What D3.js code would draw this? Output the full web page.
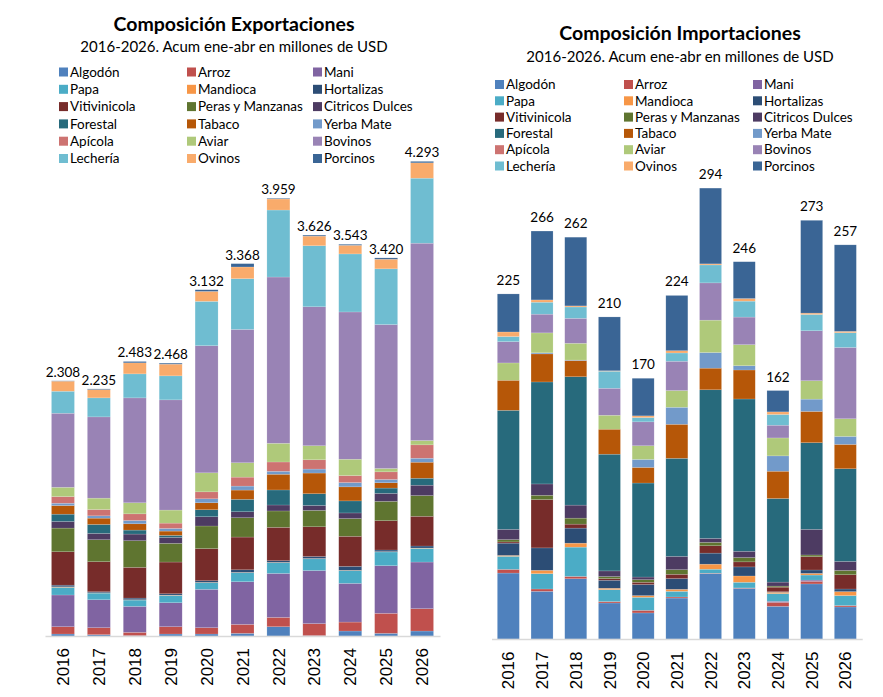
<!DOCTYPE html>
<html>
<head>
<meta charset="utf-8">
<script src="https://cdn.jsdelivr.net/npm/d3@7"></script>
<style>
  body { margin: 0; background: #fff; }
  svg { display: block; }
  text { font-family: Lato, "Open Sans", sans-serif; fill: #000; }
  .year text { font-family: "Liberation Sans", Arial, sans-serif; font-size: 17px; }
</style>
</head>
<body>
<svg id="chart" width="883" height="697"></svg>
<script>
// years on the x axis
var years = ['2016', '2017', '2018', '2019', '2020', '2021', '2022', '2023', '2024', '2025', '2026'];

// legend / stacking order, bottom to top
var seriesNames = ['Algodón', 'Arroz', 'Mani', 'Papa', 'Mandioca', 'Hortalizas',
                   'Vitivinicola', 'Peras y Manzanas', 'Citricos Dulces', 'Forestal', 'Tabaco', 'Yerba Mate',
                   'Apícola', 'Aviar', 'Bovinos', 'Lechería', 'Ovinos', 'Porcinos'];

var seriesColors = ['#4F81BD', '#C0504D', '#8064A2', '#4BACC6', '#F79646', '#2C4D75',
                    '#772C2A', '#5F7530', '#4D3B62', '#276A7C', '#B65708', '#729ACA',
                    '#CD7371', '#AFC97A', '#9983B5', '#6FBDD1', '#F9AB6B', '#3A6595'];

// Exportaciones, millones de USD
var expAlgodon      = [18, 12, 3, 18, 18, 24, 84, 3, 45, 24, 45];
var expArroz        = [66, 63, 30, 66, 57, 81, 84, 109, 81, 181, 202];
var expMani         = [287, 253, 235, 217, 347, 386, 398, 480, 350, 431, 422];
var expPapa         = [69, 60, 57, 66, 60, 81, 97, 106, 115, 124, 124];
var expMandioca     = [5, 3, 3, 3, 3, 3, 3, 3, 3, 3, 3];
var expHortalizas   = [15, 9, 15, 12, 15, 24, 15, 18, 36, 15, 18];
var expVitivinicola = [302, 272, 278, 287, 290, 296, 302, 269, 272, 265, 269];
var expPeras        = [214, 199, 241, 169, 205, 175, 148, 148, 160, 175, 187];
var expCitricos     = [60, 57, 60, 54, 84, 54, 54, 45, 51, 72, 94];
var expForestal     = [66, 81, 36, 18, 63, 112, 136, 106, 109, 48, 63];
var expTabaco       = [78, 57, 57, 39, 63, 84, 142, 187, 127, 48, 145];
var expYerba        = [21, 21, 30, 24, 36, 36, 27, 36, 39, 30, 36];
var expApicola      = [60, 57, 60, 48, 63, 81, 84, 84, 63, 69, 121];
var expAviar        = [84, 103, 100, 118, 172, 130, 169, 127, 148, 30, 39];
var expBovinos      = [670, 735, 949, 997, 1150, 1206, 1504, 1257, 1332, 1302, 1785];
var expLecheria     = [199, 172, 217, 217, 401, 459, 606, 552, 525, 504, 588];
var expOvinos       = [91, 75, 100, 106, 90, 106, 100, 87, 78, 87, 139];
var expPorcinos     = [3, 6, 12, 9, 15, 30, 6, 9, 9, 12, 13];

// Importaciones, millones de USD
var impAlgodon      = [43.0, 31.1, 39.3, 23.5, 17.0, 26.7, 42.6, 33.0, 21.3, 35.9, 20.9];
var impArroz        = [2.4, 1.5, 1.5, 0.9, 1.7, 0.7, 0.3, 0.3, 2.6, 1.7, 0.9];
var impMani         = [0, 0, 0, 0, 0, 0, 0, 0, 0.7, 0.8, 0];
var impPapa         = [8.5, 10.0, 19.1, 7.8, 8.5, 3.7, 2.6, 3.7, 5.0, 3.3, 6.5];
var impMandioca     = [0.6, 2.2, 2.6, 0.9, 1.1, 1.3, 3.3, 4.1, 0.9, 1.1, 2.6];
var impHortalizas   = [8.0, 14.6, 9.8, 5.2, 7.2, 7.0, 7.2, 5.9, 0.3, 2.2, 1.7];
var impVitivinicola = [0.8, 31.5, 2.6, 1.1, 1.5, 2.8, 4.8, 3.3, 3.0, 8.7, 9.3];
var impPeras        = [1.5, 2.8, 3.9, 1.3, 1.7, 3.0, 2.2, 2.8, 0.7, 1.1, 2.8];
var impCitricos     = [6.7, 7.4, 8.5, 3.7, 1.7, 8.7, 2.6, 4.1, 2.6, 16.7, 5.9];
var impForestal     = [77.6, 66.5, 83.7, 76.1, 61.3, 63.9, 96.9, 99.3, 54.5, 56.5, 60.4];
var impTabaco       = [19.6, 18.3, 10.6, 16.3, 10.2, 22.2, 14.1, 18.9, 17.8, 20.4, 15.9];
var impYerba        = [0, 0.7, 0.3, 0, 5.2, 11.1, 10.2, 2.8, 10.0, 8.0, 5.2];
var impApicola      = [0, 0, 0, 0, 0, 0, 0, 0, 0, 0, 0];
var impAviar        = [11.3, 13.0, 10.9, 9.1, 8.9, 10.9, 21.1, 13.7, 11.7, 12.0, 11.5];
var impBovinos      = [13.9, 12.2, 16.3, 17.6, 15.6, 19.1, 24.3, 18.0, 8.3, 32.6, 46.5];
var impLecheria     = [3.3, 7.8, 7.4, 11.1, 2.8, 5.4, 11.7, 10.4, 7.0, 10.6, 9.6];
var impOvinos       = [3.0, 1.5, 0.7, 0.3, 1.1, 1.5, 0.7, 1.7, 1.7, 0.9, 0.9];
var impPorcinos     = [24.8, 44.9, 44.8, 35.1, 24.5, 36.0, 49.4, 24.0, 13.9, 60.5, 56.4];

var expSeries = [expAlgodon, expArroz, expMani, expPapa, expMandioca, expHortalizas,
                 expVitivinicola, expPeras, expCitricos, expForestal, expTabaco, expYerba,
                 expApicola, expAviar, expBovinos, expLecheria, expOvinos, expPorcinos];
var impSeries = [impAlgodon, impArroz, impMani, impPapa, impMandioca, impHortalizas,
                 impVitivinicola, impPeras, impCitricos, impForestal, impTabaco, impYerba,
                 impApicola, impAviar, impBovinos, impLecheria, impOvinos, impPorcinos];

var esLocale = d3.formatLocale({decimal: ',', thousands: '.', grouping: [3], currency: ['$', '']});

var svg = d3.select('#chart');

function buildRows(series) {
    return years.map(function(yr, i) {
        var row = {year: yr};
        seriesNames.forEach(function(name, s) {
            row[name] = series[s][i];
        });
        return row;
    });
}

function drawChart(series, opts) {
    var g = svg.append('g');
    var rows = buildRows(series);
    var stacked = d3.stack().keys(seriesNames)(rows);

    var x = d3.scaleBand()
        .domain(years)
        .range(opts.xRange)
        .paddingInner(opts.pad)
        .paddingOuter(opts.pad / 2);

    var y = d3.scaleLinear()
        .domain([0, opts.yMax])
        .range(opts.yRange);

    // titles
    g.append('text')
        .attr('x', opts.titleX).attr('y', opts.titleY)
        .attr('text-anchor', 'middle')
        .style('font-size', '19.5px').style('font-weight', 'bold')
        .text(opts.title);
    g.append('text')
        .attr('x', opts.titleX).attr('y', opts.subY)
        .attr('text-anchor', 'middle')
        .style('font-size', '15px')
        .text('2016-2026. Acum ene-abr en millones de USD');

    // legend, 3 columns filled row by row
    var legend = g.selectAll('g.legend')
        .data(seriesNames)
      .enter().append('g')
        .attr('class', 'legend')
        .attr('transform', function(d, i) {
            return 'translate(' + opts.legendCols[i % 3] + ',' + (opts.legendY + Math.floor(i / 3) * opts.legendStep) + ')';
        });
    legend.append('rect')
        .attr('x', 0).attr('y', -4.5)
        .attr('width', 9).attr('height', 9)
        .style('fill', function(d, i) { return seriesColors[i]; });
    legend.append('text')
        .attr('x', 11).attr('y', 0)
        .attr('dy', '0.35em')
        .style('font-size', '13.5px')
        .text(function(d) { return d; });

    // stacked bars
    g.selectAll('g.layer')
        .data(stacked)
      .enter().append('g')
        .attr('class', 'layer')
        .style('fill', function(d, i) { return seriesColors[i]; })
      .selectAll('rect')
        .data(function(d) { return d; })
      .enter().append('rect')
        .attr('x', function(d) { return x(d.data.year); })
        .attr('width', x.bandwidth())
        .attr('y', function(d) { return y(d[1]); })
        .attr('height', function(d) { return y(d[0]) - y(d[1]); })
        .style('stroke', 'rgba(255,255,255,0.3)')
        .style('stroke-width', 0.5);

    // totals
    var totals = rows.map(function(r) {
        return {year: r.year, total: d3.sum(seriesNames, function(n) { return r[n]; })};
    });
    g.selectAll('text.total')
        .data(totals)
      .enter().append('text')
        .attr('class', 'total')
        .attr('x', function(d) { return x(d.year) + x.bandwidth() / 2; })
        .attr('y', function(d) { return y(d.total) - opts.labelGap; })
        .attr('text-anchor', 'middle')
        .style('font-size', '13.5px')
        .text(function(d) { return opts.fmt(d.total); });

    // x axis
    var axis = g.append('g')
        .attr('class', 'year')
        .attr('transform', 'translate(0,' + opts.yRange[0] + ')')
        .call(d3.axisBottom(x).tickSize(0).tickSizeOuter(0));
    axis.select('.domain').style('stroke', '#D9D9D9').style('stroke-width', 1.5);
    axis.selectAll('text')
        .attr('transform', 'rotate(-90)')
        .attr('text-anchor', 'end')
        .attr('x', -opts.labelTop)
        .attr('y', 0)
        .attr('dy', '0.36em')
        .style('font-size', '17px');
}

drawChart(expSeries, {
    title: 'Composición Exportaciones',
    titleX: 234, titleY: 31, subY: 52,
    legendCols: [59, 187, 313], legendY: 72, legendStep: 17.3,
    xRange: [45, 440], pad: 0.36,
    yMax: 4500, yRange: [636, 138.5],
    labelGap: 4,
    labelTop: 12,
    fmt: esLocale.format(',.0f')
});

drawChart(impSeries, {
    title: 'Composición Importaciones',
    titleX: 680, titleY: 39.5, subY: 61.5,
    legendCols: [495, 624, 753], legendY: 84.5, legendStep: 16.3,
    xRange: [491.5, 862.2], pad: 0.347,
    yMax: 300, yRange: [639, 178.9],
    labelGap: 9,
    labelTop: 12.5,
    fmt: d3.format('.0f')
});
</script>
</body>
</html>
